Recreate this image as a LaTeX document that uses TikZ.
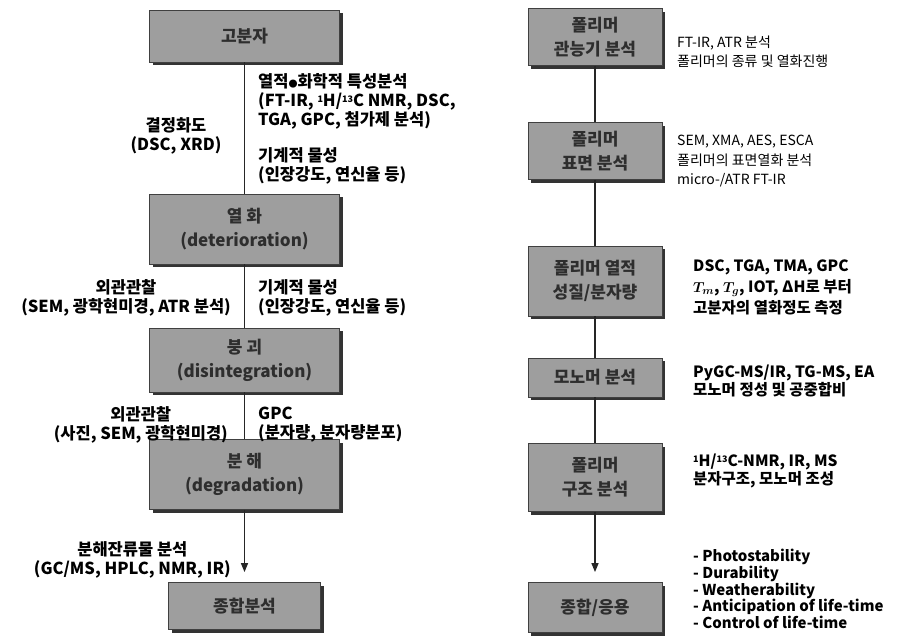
\documentclass[tikz,border=0pt]{standalone}
\usepackage{fontspec}
\setmainfont{Noto Sans CJK KR}
\usetikzlibrary{shadows,arrows.meta}
\newcommand{\sps}[1]{\raisebox{0.45ex}{\fontsize{9}{9}\selectfont #1}}
\newcommand{\Tsub}[1]{{\boldmath$T_{#1}$}}
\begin{document}
\begin{tikzpicture}[x=1pt,y=-1pt,
  box/.style={draw=black!75, line width=0.8pt, fill=black!38, text=black!82,
    font=\bfseries\fontsize{17}{24}\selectfont, align=center, inner sep=0pt,
    drop shadow={shadow xshift=3pt, shadow yshift=-3pt, fill=black!80, opacity=1}},
  lbox/.style={box, minimum width=190pt},
  rbox/.style={box, minimum width=134pt},
  lbl/.style={font=\bfseries\fontsize{16.5}{19}\selectfont, align=left, inner sep=0pt, anchor=west},
  clbl/.style={font=\bfseries\fontsize{16.5}{19}\selectfont, align=center, inner sep=0pt},
  rlbl/.style={font=\fontsize{14}{19.5}\selectfont, align=left, inner sep=0pt, anchor=west},
  rlbl2/.style={font=\bfseries\fontsize{15.5}{18.5}\selectfont, align=left, inner sep=0pt, anchor=west},
  link/.style={line width=1.4pt, draw=black!85},
  arr/.style={link, -{Triangle[length=9pt,width=7pt]}, shorten >=10pt},
]
\useasboundingbox (0,0) rectangle (913,635);

% left column
\node[lbox, minimum height=52pt] (a1) at (244.5,36) {고분자};
\node[lbox, minimum height=70pt] (a2) at (244.5,229) {열 화\\(deterioration)};
\node[lbox, minimum height=64pt] (a3) at (244.5,360) {붕 괴\\(disintegration)};
\node[lbox, minimum height=70pt] (a4) at (244.5,474.5) {분 해\\(degradation)};
\node[box, minimum width=152pt, minimum height=47pt] (a5) at (244.5,606) {종합분석};

\draw[link] (a1) -- (a2);
\draw[link] (a2) -- (a3);
\draw[link] (a3) -- (a4);
\draw[arr] (a4) -- (a5);

\node[lbl] (t1) at (258,101) {열적{\fontsize{9}{9}\selectfont ●}화학적 특성분석\\(FT-IR, \sps{1}H/\sps{13}C NMR, DSC,\\TGA, GPC, 첨가제 분석)};
\node[lbl] (t2) at (258,165.5) {기계적 물성\\(인장강도, 연신율 등)};
\node[clbl] (t3) at (176,136) {결정화도\\(DSC, XRD)};
\node[clbl, anchor=east] (t4) at (231,297.5) {외관관찰\\(SEM, 광학현미경, ATR 분석)};
\node[lbl] (t5) at (258,297.5) {기계적 물성\\(인장강도, 연신율 등)};
\node[clbl, anchor=east] (t6) at (228,425) {외관관찰\\(사진, SEM, 광학현미경)};
\node[lbl] (t7) at (258,425) {GPC\\(분자량, 분자량분포)};
\node[clbl, anchor=east] (t8) at (231,560) {분해잔류물 분석\\(GC/MS, HPLC, NMR, IR)};

% right column
\node[rbox, minimum height=57pt] (r1) at (595,37) {폴리머\\관능기 분석};
\node[rbox, minimum height=57pt] (r2) at (595,151) {폴리머\\표면 분석};
\node[rbox, minimum height=70pt] (r3) at (595,281) {폴리머 열적\\성질/분자량};
\node[rbox, minimum height=39pt] (r4) at (595,377.5) {모노머 분석};
\node[rbox, minimum height=68pt] (r5) at (595,477.5) {폴리머\\구조 분석};
\node[rbox, minimum height=50pt] (r6) at (595,607.5) {종합/응용};

\draw[link] (r1) -- (r2);
\draw[link] (r2) -- (r3);
\draw[link] (r3) -- (r4);
\draw[link] (r4) -- (r5);
\draw[arr] (r5) -- (r6);

\node[rlbl] (s1) at (677,52) {FT-IR, ATR 분석\\폴리머의 종류 및 열화진행};
\node[rlbl] (s2) at (677,161.5) {SEM, XMA, AES, ESCA\\폴리머의 표면열화 분석\\micro-/ATR FT-IR};
\node[rlbl2, font=\bfseries\fontsize{15.5}{21}\selectfont] (s3) at (693,287.5) {DSC, TGA, TMA, GPC\\\Tsub{m}, \Tsub{g}, IOT, ΔH로 부터\\고분자의 열화정도 측정};
\node[rlbl2] (s4) at (693,381) {PyGC-MS/IR, TG-MS, EA\\모노머 정성 및 공중합비};
\node[rlbl2] (s5) at (693,471) {\sps{1}H/\sps{13}C-NMR, IR, MS\\분자구조, 모노머 조성};
\node[rlbl2, font=\bfseries\fontsize{15}{16.8}\selectfont] (s6) at (693,589) {- Photostability\\- Durability\\- Weatherability\\- Anticipation of life-time\\- Control of life-time};
\end{tikzpicture}
\end{document}
